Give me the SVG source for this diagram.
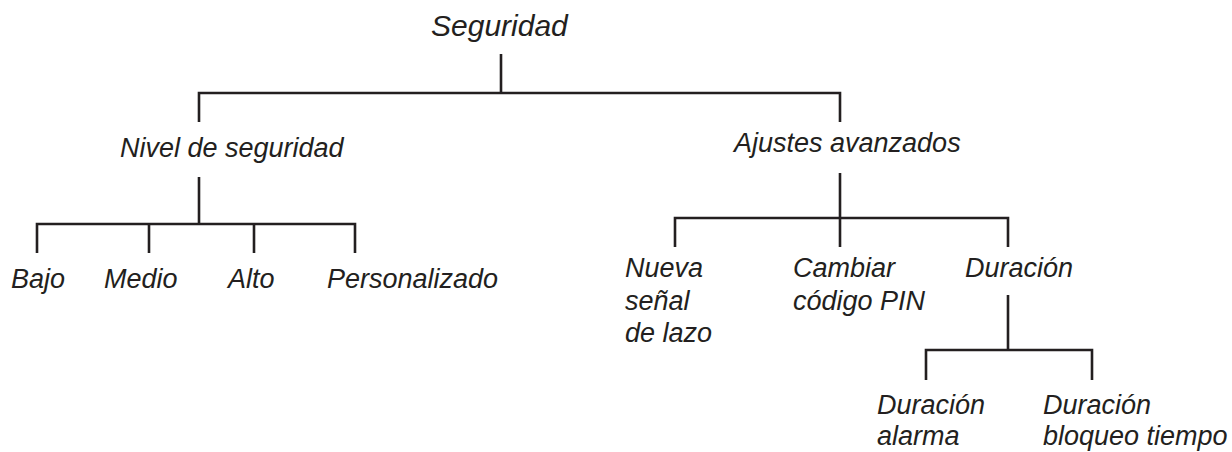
<svg xmlns="http://www.w3.org/2000/svg" width="1232" height="452" viewBox="0 0 1232 452">
<style>
.t{font-family:"Liberation Sans",Arial,sans-serif;font-style:italic;font-size:27px;fill:#231f20}
.big{font-size:30px}
.c{fill:none;stroke:#231f20;stroke-width:2.6;stroke-linecap:butt;stroke-linejoin:miter}
</style>
<rect width="1232" height="452" fill="#ffffff"/>
<g id="connectors">
<path class="c" d="M501 54V93"/>
<path class="c" d="M199 122V93H840V122"/>
<path class="c" d="M199 177V224"/>
<path class="c" d="M37 253V224H355V253"/>
<path class="c" d="M149 224V253"/>
<path class="c" d="M254 224V253"/>
<path class="c" d="M840 173V218"/>
<path class="c" d="M675 247V218H1008V247"/>
<path class="c" d="M840 218V247"/>
<path class="c" d="M1008 295V350"/>
<path class="c" d="M926 380V350H1092V380"/>
</g>
<g id="seguridad"><text class="t big" x="431" y="36">Seguridad</text></g>
<g id="nivel"><text class="t" x="120" y="157">Nivel de seguridad</text></g>
<g id="ajustes"><text class="t" x="734" y="152">Ajustes avanzados</text></g>
<g id="bajo"><text class="t" x="11" y="288">Bajo</text></g>
<g id="medio"><text class="t" x="104" y="288">Medio</text></g>
<g id="alto"><text class="t" x="228" y="288">Alto</text></g>
<g id="personalizado"><text class="t" x="327" y="288">Personalizado</text></g>
<g id="nueva"><text class="t" x="625" y="277"><tspan x="625">Nueva</tspan><tspan x="625" y="310">señal</tspan><tspan x="625" y="342">de lazo</tspan></text></g>
<g id="cambiar"><text class="t" x="793" y="277"><tspan x="793">Cambiar</tspan><tspan x="793" y="310">código PIN</tspan></text></g>
<g id="duracion"><text class="t" x="965" y="277">Duración</text></g>
<g id="duracion-alarma"><text class="t" x="877" y="414"><tspan x="877">Duración</tspan><tspan x="877" y="445">alarma</tspan></text></g>
<g id="duracion-bloqueo"><text class="t" x="1043" y="414"><tspan x="1043">Duración</tspan><tspan x="1043" y="445">bloqueo tiempo</tspan></text></g>
</svg>
